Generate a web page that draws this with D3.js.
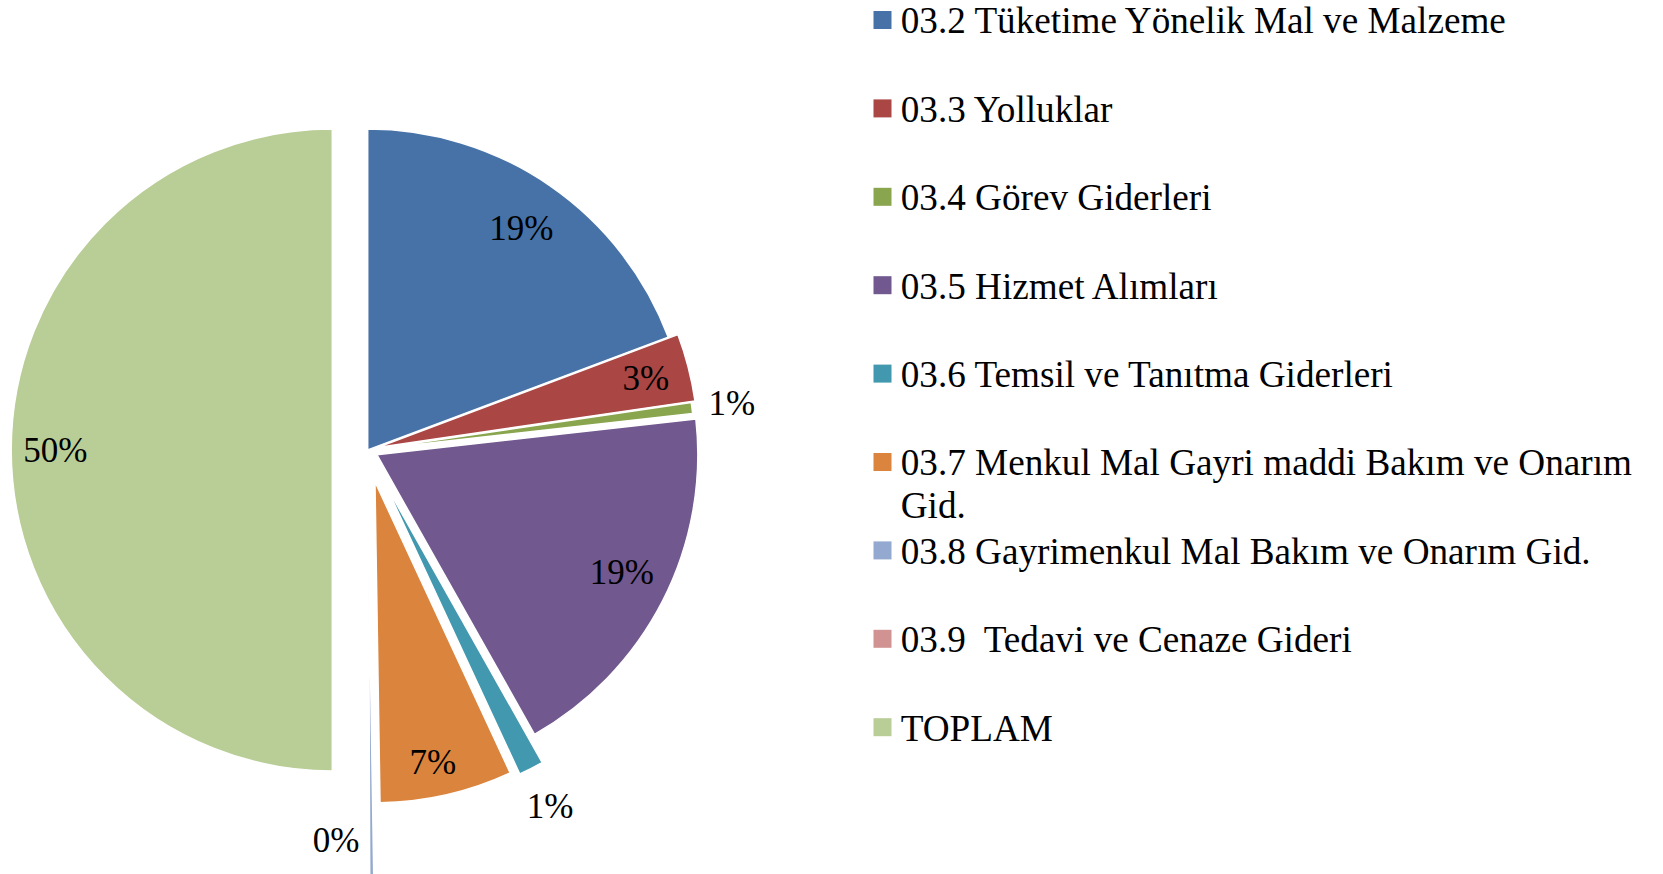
<!DOCTYPE html>
<html>
<head>
<meta charset="utf-8">
<script src="https://cdn.jsdelivr.net/npm/d3@7"></script>
<style>
  body { margin: 0; background: #fff; }
  svg { display: block; }
  text { font-family: "Liberation Serif", "Times New Roman", serif; fill: #000; }
</style>
</head>
<body>
<svg class="chart"></svg>
<script>
// exploded pie - gider dagilimi (percent of grand total)

var categories = [
  "03.2 Tüketime Yönelik Mal ve Malzeme",
  "03.3 Yolluklar",
  "03.4 Görev Giderleri",
  "03.5 Hizmet Alımları",
  "03.6 Temsil ve Tanıtma Giderleri",
  "03.7 Menkul Mal Gayri maddi Bakım ve Onarım Gid.",
  "03.8 Gayrimenkul Mal Bakım ve Onarım Gid.",
  "03.9  Tedavi ve Cenaze Gideri",
  "TOPLAM"
];
var values = [19.28, 3.4, 0.55, 18.6, 1.25, 6.67, 0.2, 0.05, 50.0];
var colors = ["#4672A8", "#AA4644", "#89A54E", "#71588F", "#4198AF", "#DB843D", "#93A9CF", "#D19392", "#B9CD96"];

// layout: how far each slice is pulled out, where its label sits (fraction of radius)
var explodePx = [0, 10, 6, 10.3, 37, 32.5, 105, 30, 35.4];
var labelK = [0.84, 0.864, 1.125, 0.84, 1.13, 0.89, 0.888, null, 0.863];
var labelDx = [0, 0, 0, 5, 0, -6, -12, 0, 0];
var labelDy = [0, 0, 0, -5, 0, 2, 0, 0, 0];
var labelAnchor = ["middle", "middle", "middle", "middle", "middle", "middle", "end", "middle", "middle"];

var width = 1663, height = 874;
var cx = 367.7, cy = 450, radius = 321;

var svg = d3.select(".chart")
  .attr("width", width)
  .attr("height", height);

svg.append("rect")
  .attr("width", width)
  .attr("height", height)
  .attr("fill", "#fff");

var total = d3.sum(values);
var rows = categories.map(function(c, i) { return { name: c, value: values[i], i: i }; });

var pie = d3.pie()
  .sort(null)
  .value(function(d) { return d.value; });

var arc = d3.arc()
  .innerRadius(0)
  .outerRadius(radius);

var arcs = pie(rows);

function offset(d, dist) {
  var a = (d.startAngle + d.endAngle) / 2;
  return [Math.sin(a) * dist, -Math.cos(a) * dist];
}

var g = svg.append("g")
  .attr("transform", "translate(" + cx + "," + cy + ")");

var slice = g.selectAll("g.slice")
  .data(arcs)
  .join("g")
  .attr("class", "slice")
  .attr("transform", function(d) {
    var o = offset(d, explodePx[d.data.i]);
    return "translate(" + o[0] + "," + o[1] + ")";
  });

slice.append("path")
  .attr("d", arc)
  .attr("fill", function(d) { return colors[d.data.i]; })
  .attr("stroke", "#fff")
  .attr("stroke-width", 1.5)
  .attr("stroke-linejoin", "round");

var pct = d3.format(".0%");

slice.filter(function(d) { return labelK[d.data.i] != null; })
  .append("text")
  .attr("x", function(d) { return offset(d, radius * labelK[d.data.i])[0] + labelDx[d.data.i]; })
  .attr("y", function(d) { return offset(d, radius * labelK[d.data.i])[1] + labelDy[d.data.i]; })
  .attr("dy", "0.34em")
  .attr("text-anchor", function(d) { return labelAnchor[d.data.i]; })
  .style("font-size", "35px")
  .text(function(d) { return pct(d.data.value / total); });

// legend
var legendX = 873.5, legendTop = 33.3, rowStep = 88.4, lineStep = 42.4, maxTextW = 745;

var legend = svg.append("g").attr("class", "legend");

var item = legend.selectAll("g")
  .data(rows)
  .join("g")
  .attr("transform", function(d, i) { return "translate(" + legendX + "," + (legendTop + rowStep * i) + ")"; });

item.append("rect")
  .attr("x", 0)
  .attr("y", -22.3)
  .attr("width", 18)
  .attr("height", 18)
  .attr("fill", function(d) { return colors[d.i]; });

item.each(function(d) {
  var t = d3.select(this).append("text")
    .attr("x", 27.2)
    .attr("y", 0)
    .attr("xml:space", "preserve")
    .style("white-space", "pre")
    .style("font-size", "37.2px");
  var words = d.name.split(" ");
  var line = [];
  var tspan = t.append("tspan").attr("x", 27.2).attr("dy", 0);
  words.forEach(function(w) {
    line.push(w);
    tspan.text(line.join(" "));
    if (tspan.node().getComputedTextLength() > maxTextW && line.length > 1) {
      line.pop();
      tspan.text(line.join(" "));
      line = [w];
      tspan = t.append("tspan").attr("x", 27.2).attr("dy", lineStep).text(w);
    }
  });
});
</script>
</body>
</html>
